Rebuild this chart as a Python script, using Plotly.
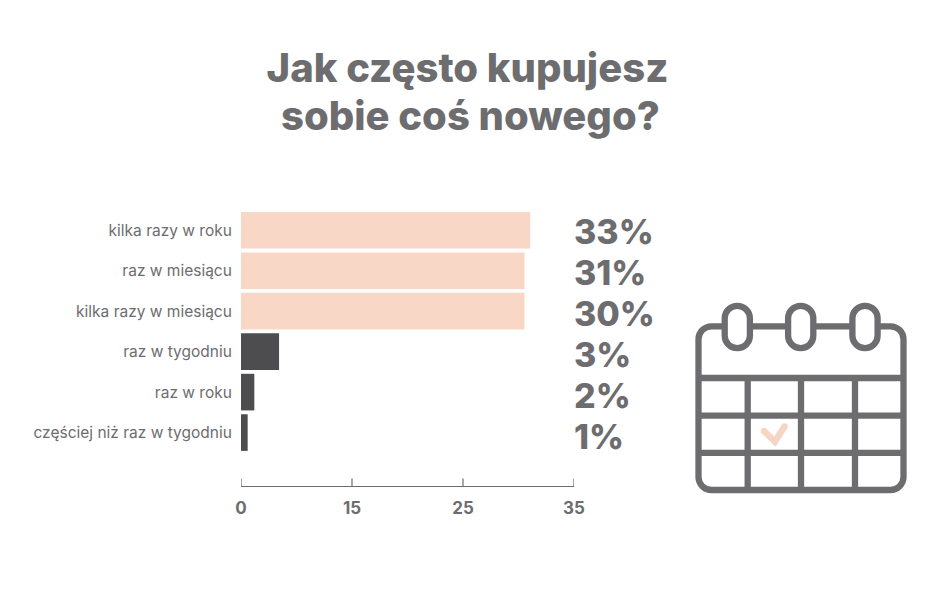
import plotly.graph_objects as go

# Data
categories = ["kilka razy w roku", "raz w miesiącu", "kilka razy w miesiącu",
              "raz w tygodniu", "raz w roku", "częściej niż raz w tygodniu"]
bar_lengths = [30.4, 29.8, 29.8, 4.0, 1.4, 0.7]
value_labels = ["33%", "31%", "30%", "3%", "2%", "1%"]
bar_colors = ["#f8d7c7", "#f8d7c7", "#f8d7c7", "#4d4d4f", "#4d4d4f", "#4d4d4f"]
tick_positions = [0, 35 / 3, 70 / 3, 35]
tick_labels = ["0", "15", "25", "35"]
title_line_1 = "Jak często kupujesz"
title_line_2 = "sobie coś nowego?"

TEXT = "#6d6d70"
FONT = "Inter"
OFF = 8  # the page's body margin
W, H = 945 - 2 * OFF, 612 - 2 * OFF
L, R, T, B = 241 - OFF, 574 - OFF, 210 - OFF, 486.5 - OFF


def px(x):
    return (x - OFF - L) / (R - L)


def py(y):
    return (B - (y - OFF)) / (B - T)


def round_rect(x0, y0, x1, y1, r):
    k = r * 0.45
    p = [
        f"M{px(x0 + r)},{py(y0)}", f"L{px(x1 - r)},{py(y0)}",
        f"C{px(x1 - k)},{py(y0)} {px(x1)},{py(y0 + k)} {px(x1)},{py(y0 + r)}",
        f"L{px(x1)},{py(y1 - r)}",
        f"C{px(x1)},{py(y1 - k)} {px(x1 - k)},{py(y1)} {px(x1 - r)},{py(y1)}",
        f"L{px(x0 + r)},{py(y1)}",
        f"C{px(x0 + k)},{py(y1)} {px(x0)},{py(y1 - k)} {px(x0)},{py(y1 - r)}",
        f"L{px(x0)},{py(y0 + r)}",
        f"C{px(x0)},{py(y0 + k)} {px(x0 + k)},{py(y0)} {px(x0 + r)},{py(y0)}Z",
    ]
    return " ".join(p)


def line_shape(x0, y0, x1, y1, width=6.3, color=TEXT):
    return dict(type="line", xref="paper", yref="paper", x0=px(x0), y0=py(y0), x1=px(x1), y1=py(y1),
                line=dict(color=color, width=width))


def path_shape(path, fill="rgba(0,0,0,0)", color=TEXT, width=6.3):
    return dict(type="path", xref="paper", yref="paper", path=path, fillcolor=fill,
                line=dict(color=color, width=width))


def dot(x, y, r, color):
    return dict(type="circle", xref="paper", yref="paper", x0=px(x - r), x1=px(x + r),
                y0=py(y + r), y1=py(y - r), fillcolor=color, line=dict(width=0))


shapes = [path_shape(round_rect(698.5, 326.5, 903.5, 490.5, 13))]
for y in (378.3, 416, 453.3):
    shapes.append(line_shape(698.5, y, 903.5, y))
for x in (747.7, 801, 855):
    shapes.append(line_shape(x, 378.3, x, 490.5))
for x in (737.3, 800.7, 865):
    shapes.append(path_shape(round_rect(x - 12.6, 306, x + 12.6, 348.4, 12.5), fill="#ffffff"))
CHECK = "#f6d5c5"
check = [(764, 431.5), (775, 442), (784.5, 427)]
shapes.append(path_shape(f"M{px(check[0][0])},{py(check[0][1])} L{px(check[1][0])},{py(check[1][1])} "
                         f"L{px(check[2][0])},{py(check[2][1])}", color=CHECK, width=6.5))
for c in check:
    shapes.append(dot(c[0], c[1], 3.25, CHECK))
# axis ticks rising from the axis line
for t in tick_positions:
    shapes.append(dict(type="line", xref="x", yref="paper", x0=t, x1=t, y0=0, y1=7.5 / (B - T),
                       line=dict(color=TEXT, width=1.2)))

annotations = [
    dict(x=35, y=cat, xref="x", yref="y", text=lab, showarrow=False, xanchor="left", yanchor="middle",
         xshift=-2, yshift=-(1 + 0.65 * i), font=dict(family=FONT, size=34, color=TEXT, weight=800))
    for i, (cat, lab) in enumerate(zip(categories, value_labels))
]
annotations.append(dict(x=px(470.5), y=py(115.5), xref="paper", yref="paper", text=title_line_2, showarrow=False,
                        xanchor="center", yanchor="middle",
                        font=dict(family=FONT, size=40, color=TEXT, weight=800)))

fig = go.Figure(go.Bar(y=categories, x=bar_lengths, orientation="h",
                       marker=dict(color=bar_colors, line=dict(width=0)), width=0.905))

fig.update_layout(
    width=W, height=H, autosize=False,
    margin=dict(l=L, r=W - R, t=T, b=H - B, pad=0),
    paper_bgcolor="#ffffff", plot_bgcolor="#ffffff",
    showlegend=False,
    title=dict(text=title_line_1, x=(467.5 - OFF) / W, xanchor="center", y=1 - (67.5 - OFF) / H, yanchor="middle",
               font=dict(family=FONT, size=40, color=TEXT, weight=800)),
    shapes=shapes, annotations=annotations,
)
fig.update_xaxes(range=[0, 35], tickmode="array", tickvals=tick_positions, ticktext=tick_labels,
                 ticks="", showgrid=False, zeroline=False,
                 showline=True, linecolor=TEXT, linewidth=1.2, ticklabelstandoff=6,
                 tickfont=dict(family=FONT, size=17, color=TEXT, weight=700))
fig.update_yaxes(type="category", categoryorder="array", categoryarray=categories,
                 range=[6.32, -0.5], showgrid=False, zeroline=False, showline=False,
                 ticks="outside", ticklen=5, tickcolor="rgba(0,0,0,0)",
                 tickfont=dict(family=FONT, size=15.5, color=TEXT, weight=400))

fig.write_html("out.html")
